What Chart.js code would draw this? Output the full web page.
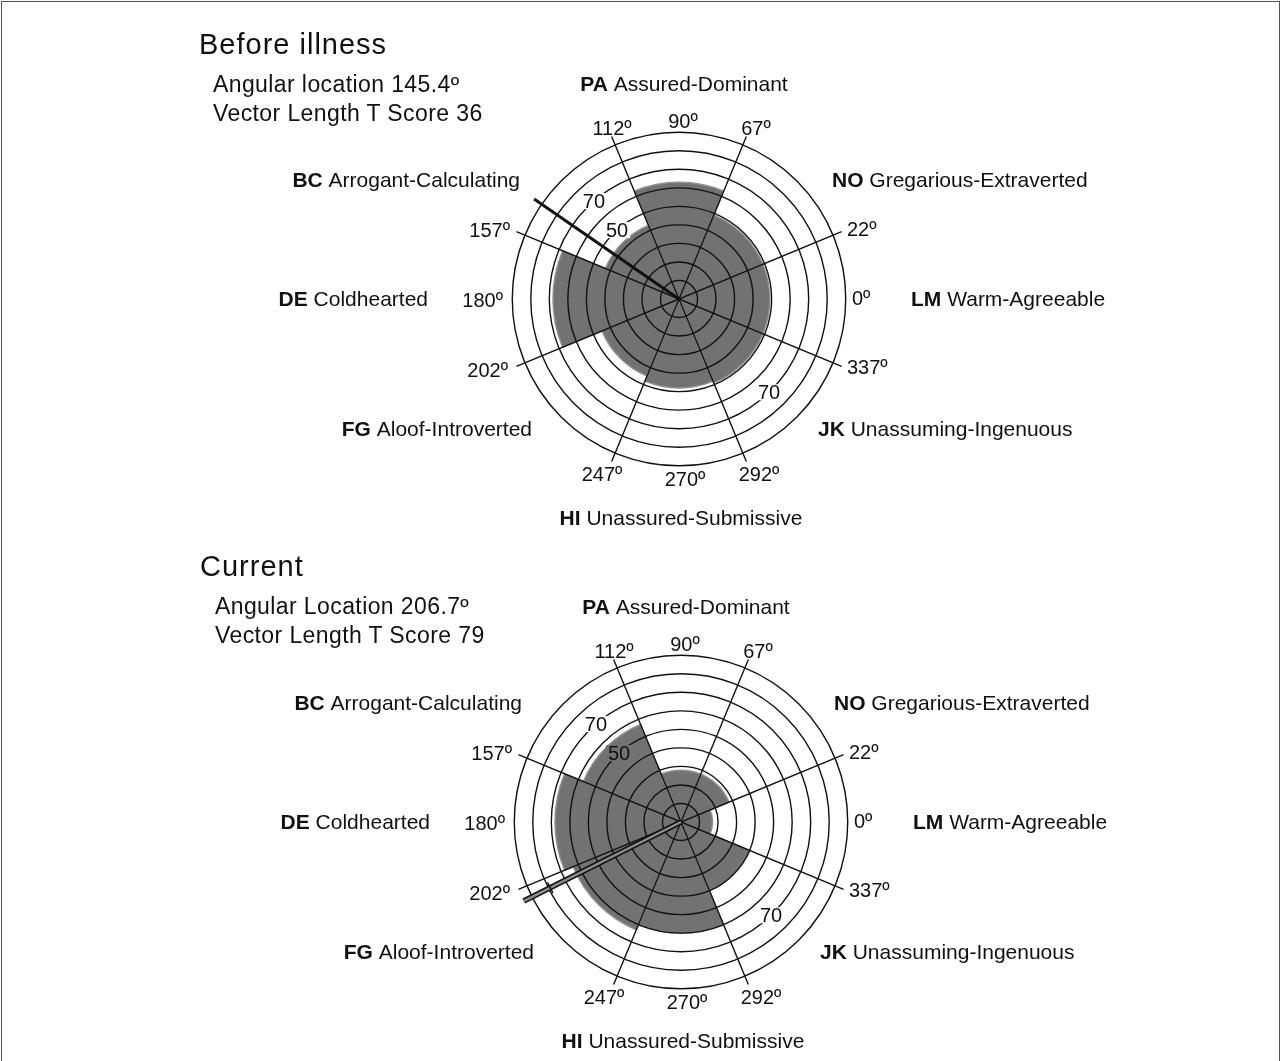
<!DOCTYPE html>
<html>
<head>
<meta charset="utf-8">
<title>Interpersonal circumplex</title>
<script src="https://cdn.jsdelivr.net/npm/chart.js@4.4.1/dist/chart.umd.min.js"></script>
<style>
    html, body { margin: 0; padding: 0; background: #fff; }
    body {
        width: 1281px; height: 1061px; position: relative; overflow: hidden;
        font-family: "Liberation Sans", Arial, sans-serif; color: #111;
    }
    .frame { position: absolute; left: 1px; top: 1px; width: 1277px; height: 1090px; border: 1px solid #555; }
    canvas { position: absolute; left: 0; }
    .title { position: absolute; font-size: 29px; line-height: 29px; letter-spacing: 1px; white-space: nowrap; }
    .stat { position: absolute; font-size: 23px; line-height: 23px; letter-spacing: 0.4px; white-space: nowrap; }
</style>
</head>
<body>
<div class="frame"></div>
<canvas id="circumplex-before" width="1281" height="530" style="top:0"></canvas>
<canvas id="circumplex-current" width="1281" height="531" style="top:530px"></canvas>
<script>

// octants, clockwise from the top of the circle
const OCTANT_CODES = ['PA', 'NO', 'LM', 'JK', 'HI', 'FG', 'DE', 'BC'];
const OCTANT_NAMES = ['Assured-Dominant', 'Gregarious-Extraverted', 'Warm-Agreeable', 'Unassuming-Ingenuous',
                      'Unassured-Submissive', 'Aloof-Introverted', 'Coldhearted', 'Arrogant-Calculating'];

// degree marks at the spoke ends (octant boundaries) and at the four axes
const BOUNDARY_LABELS = ['112º', '67º', '22º', '337º', '292º', '247º', '202º', '157º'];
const AXIS_LABELS = ['90º', '0º', '270º', '180º'];
const RING_LABELS = [70, 50, 70];

// octant T scores
const BEFORE_VALUES = [63, 49, 49, 49, 48, 45, 68, 43];
const CURRENT_VALUES = [28, 28, 17, 40, 60, 63, 68, 57];

const PANEL_TITLES = ['Before illness', 'Current'];
const ANGLE_PREFIXES = ['Angular location', 'Angular Location'];
const VECTOR_ANGLES = [145.4, 206.7];
const VECTOR_SCORES = [36, 79];

const RING_MAX = 90;    // last ring
const SPOKE_MAX = 95;   // spokes and vectors run a bit past the last ring
const GREY = '#727272';
const INK = '#111';

// text placement around the circle, pixels from the centre
const OCTANT_LAYOUT = [
    [5, -214, 'center'], [153, -118, 'left'], [232, 1, 'left'], [139, 131, 'left'],
    [2, 220, 'center'], [-147, 131, 'right'], [-251, 1, 'right'], [-159, -118, 'right']
];
const BOUNDARY_LAYOUT = [
    [-67, -170, 'center'], [77, -170, 'center'], [168, -69, 'left'], [168, 69, 'left'],
    [80, 176, 'center'], [-77, 176, 'center'], [-171, 72, 'right'], [-169, -68, 'right']
];
const AXIS_LAYOUT = [[4, -177, 'center'], [173, 0, 'left'], [6, 181, 'center'], [-176, 2, 'right']];
const RING_LABEL_ANGLES = [131, 132, 314];

const font = (weight, size) => `${weight} ${size}px "Liberation Sans", Arial, sans-serif`;

// index of the octant that contains a (counter clockwise, from east) angle
function octantAt(angle) {
    const cw = ((90 - angle) % 360 + 360) % 360;
    return Math.floor(((cw + 22.5) % 360) / 45);
}

function strokeLine(ctx, x1, y1, x2, y2) {
    ctx.beginPath();
    ctx.moveTo(x1, y1);
    ctx.lineTo(x2, y2);
    ctx.stroke();
}

/**
 * Everything the radial scale does not draw itself: the vector,
 * the ring values and all the text round the circle.
 */
const circumplexDecorations = {
    id: 'circumplexDecorations',
    afterDraw(chart, args, opts) {
        const ctx = chart.ctx;
        const scale = chart.scales.r;
        const cx = scale.xCenter;
        const cy = scale.yCenter;
        const values = chart.data.datasets[0].data;
        const polar = (angle, value) => {
            const r = scale.getDistanceFromCenterForValue(value);
            const rad = angle * Math.PI / 180;
            return {x: cx + r * Math.cos(rad), y: cy - r * Math.sin(rad)};
        };

        ctx.save();

        // vector of the angular location
        const end = polar(opts.vectorAngle, SPOKE_MAX);
        if (opts.vectorStyle === 'double') {
            ctx.strokeStyle = INK;
            ctx.lineWidth = 5.5;
            strokeLine(ctx, cx, cy, end.x, end.y);
            ctx.strokeStyle = '#8c8c8c';
            ctx.lineWidth = 2.5;
            strokeLine(ctx, cx, cy, end.x, end.y);

            // mark of the vector length score
            const rad = opts.vectorAngle * Math.PI / 180;
            const t = polar(opts.vectorAngle, opts.vectorScore);
            const dx = Math.sin(rad) * 6;
            const dy = Math.cos(rad) * 6;
            ctx.strokeStyle = INK;
            ctx.lineWidth = 1.4;
            strokeLine(ctx, t.x - dx, t.y - dy, t.x + dx, t.y + dy);
        } else {
            ctx.strokeStyle = INK;
            ctx.lineWidth = 3;
            strokeLine(ctx, cx, cy, end.x, end.y);
        }

        // ring values, cut into the ring
        ctx.font = font('normal', 20);
        ctx.textAlign = 'center';
        ctx.textBaseline = 'middle';
        RING_LABELS.forEach((value, i) => {
            const angle = RING_LABEL_ANGLES[i];
            const p = polar(angle, value);
            const w = ctx.measureText(String(value)).width + 4;
            ctx.fillStyle = values[octantAt(angle)] > value ? GREY : '#fff';
            ctx.fillRect(p.x - w / 2, p.y - 8, w, 16);
            ctx.fillStyle = INK;
            ctx.fillText(String(value), p.x, p.y + 1);
        });

        // degree marks
        const degreeText = (text, [dx, dy, align]) => {
            ctx.textAlign = align;
            ctx.fillText(text, cx + dx, cy + dy);
        };
        BOUNDARY_LABELS.forEach((text, i) => degreeText(text, BOUNDARY_LAYOUT[i]));
        AXIS_LABELS.forEach((text, i) => degreeText(text, AXIS_LAYOUT[i]));

        // octant names: bold code, plain description
        ctx.textAlign = 'left';
        OCTANT_CODES.forEach((code, i) => {
            const [dx, dy, align] = OCTANT_LAYOUT[i];
            const rest = ' ' + OCTANT_NAMES[i];
            ctx.font = font('bold', 21);
            const wCode = ctx.measureText(code).width;
            ctx.font = font('normal', 21);
            const wRest = ctx.measureText(rest).width;
            const total = wCode + wRest;
            let x = cx + dx;
            if (align === 'center') x -= total / 2;
            if (align === 'right') x -= total;
            ctx.font = font('bold', 21);
            ctx.fillText(code, x, cy + dy);
            ctx.font = font('normal', 21);
            ctx.fillText(rest, x + wCode, cy + dy);
        });

        ctx.restore();
    }
};

class CircumplexChart {

    constructor(name, values, vectorAngle, vectorScore, vectorStyle, padding) {
        this.name = name;
        this._values = values;
        this._vectorAngle = vectorAngle;
        this._vectorScore = vectorScore;
        this._vectorStyle = vectorStyle;
        // the padding places the circle on the page
        this._padding = padding;
        this._chart = null;
    }

    init() {
        const canvas = document.getElementById(`circumplex-${this.name}`);
        this._chart = new Chart(canvas, {
            type: 'polarArea',
            data: {
                labels: OCTANT_CODES,
                datasets: [{
                    data: this._values,
                    backgroundColor: GREY,
                    borderColor: '#8f8f8f',
                    borderWidth: 1.5
                }]
            },
            options: {
                responsive: false,
                animation: false,
                events: [],
                layout: {padding: this._padding},
                plugins: {
                    legend: {display: false},
                    tooltip: {enabled: false},
                    circumplexDecorations: {
                        vectorAngle: this._vectorAngle,
                        vectorScore: this._vectorScore,
                        vectorStyle: this._vectorStyle
                    }
                },
                scales: {
                    r: {
                        min: 0,
                        max: SPOKE_MAX,
                        startAngle: -22.5,
                        ticks: {display: false, stepSize: 10},
                        grid: {
                            circular: true,
                            z: 1,
                            color: INK,
                            lineWidth: (c) => (c.tick && c.tick.value > RING_MAX) ? 0 : 1.4
                        },
                        angleLines: {display: true, color: INK, lineWidth: 1.4},
                        pointLabels: {display: false}
                    }
                }
            },
            plugins: [circumplexDecorations]
        });
    }
}

function addText(cls, text, left, top) {
    const div = document.createElement('div');
    div.className = cls;
    div.textContent = text;
    div.style.left = left + 'px';
    div.style.top = top + 'px';
    document.body.appendChild(div);
}

// headings of the two panels
const HEAD_POS = [[199, 213, 30], [200, 215, 552]];
PANEL_TITLES.forEach((title, i) => {
    const [tx, sx, ty] = HEAD_POS[i];
    addText('title', title, tx, ty);
    addText('stat', `${ANGLE_PREFIXES[i]} ${VECTOR_ANGLES[i]}º`, sx, ty + 43);
    addText('stat', `Vector Length T Score ${VECTOR_SCORES[i]}`, sx, ty + 72);
});

new CircumplexChart('before', BEFORE_VALUES, VECTOR_ANGLES[0], VECTOR_SCORES[0], 'single',
    {left: 503, right: 426, top: 123, bottom: 55}).init();
new CircumplexChart('current', CURRENT_VALUES, VECTOR_ANGLES[1], VECTOR_SCORES[1], 'double',
    {left: 505, right: 424, top: 116, bottom: 63}).init();

</script>
</body>
</html>
